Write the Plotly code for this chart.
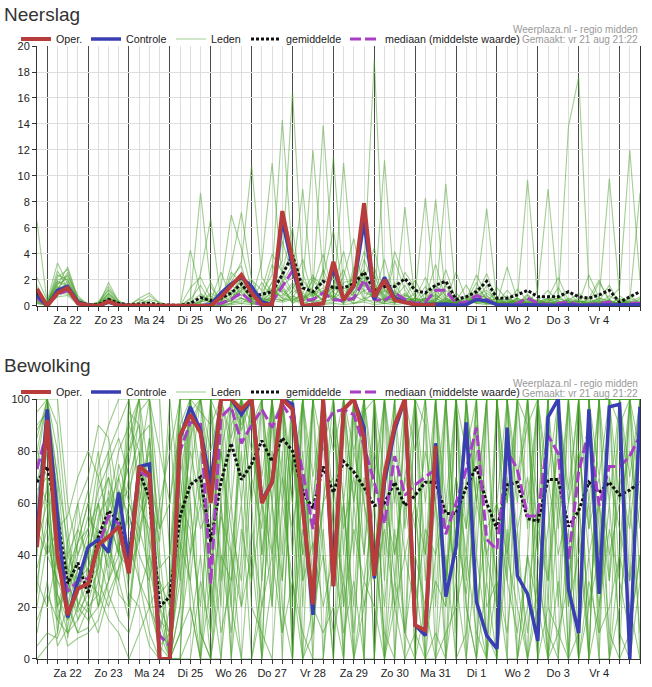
import pandas as pd
import plotly.graph_objects as go

# tijdas: 6-uurlijkse stappen, vr 21 aug 18:00 t/m za 5 sep 12:00
tijden = pd.date_range("2020-08-21 18:00", periods=60, freq="6h")
dag_labels = ["Za 22", "Zo 23", "Ma 24", "Di 25", "Wo 26", "Do 27", "Vr 28",
              "Za 29", "Zo 30", "Ma 31", "Di 1", "Wo 2", "Do 3", "Vr 4"]

# ---- Neerslag (mm per 6 uur) ----
neerslag_oper = [1.3, 0.0, 1.0, 1.4, 0.2, 0.05, 0.0, 0.35, 0.05, 0.05,
                 0, 0, 0, 0, 0, 0, 0, 0,
                 0.7, 1.5, 2.4, 1.0, 0.1, 0.1, 7.3, 3.5, 0.0, 0.1, 0.2, 3.4,
                 0.45, 1.6, 7.9, 0.7, 2.0, 0.45, 0.3, 0.1, 0.05, 0.1]
neerslag_controle = [0.8, 0.0, 1.2, 1.5, 0.3, 0.05, 0.0, 0.3, 0.05, 0.0,
                     0, 0, 0, 0, 0, 0, 0, 0.1,
                     1.0, 1.7, 2.2, 1.5, 0.3, 0.1, 6.6, 3.0, 0.0, 0.1, 0.2, 3.0,
                     0.5, 1.5, 6.5, 0.5, 2.2, 0.6, 0.3, 0.1, 0.1, 0.1,
                     0.15, 0.05, 0.1, 0.5, 0.4, 0.1, 0.05, 0.05, 0.1, 0.05,
                     0.05, 0.05, 0.1, 0.05, 0.05, 0.05, 0.05, 0.05, 0.05, 0.1]
neerslag_gemiddelde = [1.0, 0.1, 1.0, 1.3, 0.3, 0.1, 0.1, 0.5, 0.2, 0.1,
                       0.15, 0.2, 0.1, 0.05, 0.05, 0.2, 0.65, 0.4, 0.6, 1.0,
                       1.7, 0.7, 0.9, 1.1, 2.4, 3.9, 1.4, 1.1, 1.9, 1.4,
                       1.4, 1.7, 2.6, 1.2, 1.5, 1.5, 2.1, 1.2, 1.0, 1.6,
                       1.9, 0.5, 0.7, 1.1, 1.9, 0.6, 0.6, 0.85, 1.2, 0.7,
                       0.7, 0.7, 1.1, 0.7, 0.6, 0.85, 1.2, 0.3, 0.7, 1.1]
neerslag_mediaan = [0.6, 0.05, 0.9, 1.2, 0.2, 0.05, 0.05, 0.3, 0.05, 0.0,
                    0, 0, 0, 0, 0, 0, 0.05, 0.1, 0.2, 0.5,
                    1.0, 0.3, 0.1, 0.3, 1.5, 2.7, 0.4, 0.5, 1.0, 0.5,
                    0.4, 0.6, 2.0, 0.5, 0.4, 1.0, 0.5, 0.2, 0.3, 1.2,
                    1.2, 0.2, 0.3, 0.8, 0.5, 0.1, 0.1, 0.2, 0.6, 0.2,
                    0.1, 0.2, 0.3, 0.1, 0.1, 0.2, 0.3, 0.05, 0.2, 0.2]
neerslag_leden = [
    [6.5, 0.2,2.4,2.0,0.4, 0.1,0.0,1.0,0.2, 0.0,0.0,0.4,0.1, 0.0,0.0,0.6,8.7, 1.5,0.3,2.2,3.1, 0.4,0.2,1.8,3.5, 16.5,2.5,0.4,1.0, 2.2,0.3,1.0,2.8, 0.6,1.4,0.2,0.9, 0.3,0.1,1.6,0.5, 0.2,0.3,1.4,0.6, 0.1,0.4,0.2,0.9, 0.1,0.3,0.6,1.1, 0.2,0.0,0.4,1.6, 0.1,0.3,0.7],
    [1.2, 0.1,1.8,1.5,0.2, 0.0,0.1,0.6,0.1, 0.0,0.3,0.8,0.2, 0.0,0.0,4.3,1.0, 0.2,0.0,0.5,1.2, 2.0,0.4,0.6,1.8, 3.2,0.5,1.5,4.0, 0.8,0.2,2.6,1.5, 3.0,0.4,1.8,0.3, 0.6,2.2,0.4,0.2, 1.0,0.2,0.8,2.5, 0.3,0.1,0.5,9.7, 0.5,0.1,0.2,0.4, 0.0,0.6,2.0,0.3, 0.1,0.0,0.4],
    [0.6, 0.0,1.2,2.6,0.5, 0.1,0.2,1.3,0.4, 0.0,0.0,0.2,0.0, 0.0,0.0,0.0,2.5, 6.7,0.4,1.0,2.0, 0.3,0.5,3.2,1.4, 0.2,1.0,2.4,0.6, 1.5,4.2,0.8,2.0, 0.4,0.2,3.5,1.2, 0.1,0.6,0.3,2.8, 0.4,1.6,0.2,0.1, 0.2,3.0,0.5,0.2, 1.2,9.0,0.6,0.3, 0.1,0.2,1.8,0.5, 0.0,0.8,0.2],
    [2.2, 0.4,3.3,1.7,0.3, 0.0,0.1,0.5,0.0, 0.0,0.1,0.0,0.0, 0.0,0.0,0.3,0.9, 0.2,1.5,7.0,4.4, 1.2,0.3,0.8,5.0, 2.4,0.8,0.2,2.2, 5.8,1.0,0.4,3.6, 1.6,0.8,0.3,0.6, 2.0,0.4,0.9,0.3, 0.2,0.5,2.4,0.8, 0.1,0.2,1.3,0.4, 0.2,0.1,0.5,13.8, 17.6,1.5,0.3,0.2, 0.6,0.1,0.3],
    [0.9, 0.2,1.6,3.0,0.6, 0.2,0.0,1.8,0.3, 0.1,0.0,0.0,0.0, 0.0,0.0,1.4,2.2, 0.6,0.2,3.2,7.2, 2.0,1.2,4.0,2.6, 6.0,0.4,0.9,1.4, 0.4,2.3,5.2,1.0, 0.8,3.6,0.6,0.4, 0.2,0.1,0.5,1.2, 0.6,0.2,0.3,1.0, 0.4,0.8,0.1,0.2, 0.3,0.6,2.2,0.4, 0.1,0.3,0.6,9.8, 0.8,0.2,0.1],
    [1.6, 0.1,1.3,1.2,0.2, 0.0,0.3,1.2,0.2, 0.0,0.0,0.1,0.0, 0.0,0.0,0.0,0.3, 1.0,0.5,1.8,3.4, 10.8,2.2,1.0,0.4, 1.2,3.6,0.6,2.8, 1.0,0.6,1.4,4.2, 2.4,0.3,1.0,0.6, 0.4,1.5,0.2,0.3, 0.1,0.4,1.8,0.4, 0.2,0.1,0.6,0.3, 0.5,0.2,0.1,0.6, 0.3,0.4,0.2,0.5, 1.4,12.0,2.0],
    [0.4, 0.0,0.9,1.9,0.4, 0.1,0.1,0.8,0.1, 0.0,0.2,0.5,0.3, 0.0,0.0,0.0,0.4, 0.8,0.1,2.6,1.8, 0.5,3.4,11.0,2.0, 4.6,0.3,2.2,1.6, 0.6,1.8,2.0,0.5, 1.8,0.5,4.2,2.0, 0.6,0.3,0.2,0.4, 2.6,0.5,0.3,1.6, 0.1,0.3,0.2,0.5, 0.4,1.2,0.3,0.1, 0.2,2.4,0.6,0.3, 0.2,0.4,8.7],
    [1.0, 0.3,2.0,2.3,0.8, 0.0,0.2,0.4,0.0, 0.0,0.0,0.0,0.0, 0.0,0.0,0.2,0.0, 0.4,2.6,0.6,1.2, 0.3,1.0,2.4,14.3, 3.8,0.5,1.2,0.3, 2.6,0.4,1.6,2.2, 0.5,1.2,0.4,2.6, 1.4,0.2,0.6,0.2, 0.3,0.6,0.4,0.2, 1.4,0.5,0.2,0.6, 0.1,0.5,0.8,0.2, 0.6,0.1,0.3,0.4, 0.1,0.6,0.2],
    [0.3, 0.1,1.4,1.6,0.2, 0.0,0.0,0.6,0.2, 0.1,0.5,0.2,0.0, 0.0,0.0,0.0,0.0, 0.0,0.0,0.8,2.4, 0.6,0.2,0.5,1.6, 2.2,9.0,1.0,0.5, 1.2,2.8,0.4,1.8, 4.5,0.6,0.2,0.8, 0.4,0.6,3.2,0.5, 0.2,0.3,0.8,1.2, 0.5,0.2,0.6,0.1, 0.2,0.3,0.2,0.4, 1.0,0.2,0.1,0.2, 0.3,0.2,0.5],
    [0.8, 0.2,2.7,1.4,0.1, 0.0,0.0,0.3,0.1, 0.0,0.0,0.0,0.0, 0.0,0.0,0.5,1.6, 0.2,0.6,1.2,0.8, 1.4,0.4,0.2,2.6, 1.0,1.6,12.0,2.4, 0.5,1.2,0.8,0.4, 1.0,2.2,0.8,0.3, 0.2,0.5,1.6,0.8, 0.4,0.2,0.6,0.3, 0.2,1.2,0.4,0.5, 0.3,0.2,1.4,0.2, 0.4,0.2,0.5,0.1, 0.2,0.2,0.3],
    [1.4, 0.0,1.0,0.9,0.3, 0.2,0.1,0.5,0.0, 0.0,0.0,0.0,0.0, 0.0,0.0,0.0,0.2, 1.8,0.2,0.4,2.2, 0.8,0.3,1.2,0.6, 1.6,0.2,1.4,13.9, 3.0,0.6,2.4,1.6, 0.8,0.4,1.2,0.2, 0.6,0.1,0.3,1.6, 0.2,0.8,0.5,0.2, 0.6,0.2,0.1,0.8, 0.3,0.6,0.2,0.4, 0.1,0.2,0.6,0.4, 0.2,0.1,0.6],
    [0.5, 0.2,1.7,2.1,0.5, 0.0,0.2,0.7,0.1, 0.0,0.0,0.0,0.0, 0.0,0.0,0.0,0.6, 0.3,0.4,1.6,1.0, 0.2,0.6,0.4,2.0, 0.8,0.4,0.6,2.6, 11.5,1.4,1.0,2.4, 0.6,2.0,0.5,0.4, 0.3,1.0,0.2,0.6, 0.4,0.2,1.0,0.6, 0.1,0.5,0.3,0.2, 0.4,0.1,0.3,0.2, 0.1,0.6,0.2,0.8, 0.3,0.4,0.1],
    [0.2, 0.1,1.1,1.3,0.2, 0.0,0.1,0.4,0.0, 0.0,0.0,0.0,0.0, 0.0,0.0,0.1,0.3, 0.6,0.2,1.0,0.6, 0.4,1.8,0.6,1.2, 0.6,2.0,0.8,1.2, 0.4,11.0,2.0,1.2, 1.4,0.4,0.6,1.6, 0.2,0.4,0.8,0.3, 0.6,0.1,0.5,0.8, 0.2,0.4,0.2,0.3, 0.1,0.2,0.4,0.1, 0.3,0.1,0.2,0.2, 0.5,0.1,0.2],
    [0.7, 0.1,2.2,2.8,0.6, 0.1,0.3,1.5,0.3, 0.0,0.6,1.0,0.2, 0.0,0.0,0.0,0.2, 0.0,0.2,0.6,1.4, 0.6,0.5,1.8,1.0, 0.5,0.8,0.3,1.2, 0.6,0.4,1.6,2.8, 19.0,1.2,0.8,0.3, 0.6,0.4,0.2,0.5, 0.2,0.3,0.6,0.4, 0.3,0.2,0.4,0.2, 0.2,0.5,0.1,0.2, 0.4,0.2,0.3,0.1, 0.2,0.3,0.1],
    [1.1, 0.3,1.5,1.0,0.2, 0.0,0.2,0.9,0.2, 0.0,0.0,0.0,0.0, 0.0,0.0,0.0,0.0, 0.1,0.8,0.4,0.6, 0.2,0.4,1.0,0.8, 1.8,0.6,2.0,0.8, 1.6,0.5,0.4,1.8, 0.4,11.2,1.0,0.6, 0.4,0.2,1.2,0.4, 0.2,0.4,0.3,0.6, 0.2,0.1,0.2,0.4, 0.2,0.4,0.6,0.2, 0.1,0.2,0.4,0.2, 0.3,0.1,0.2],
    [0.2, 0.0,0.8,1.1,0.1, 0.0,0.0,0.3,0.0, 0.0,0.0,0.0,0.0, 0.0,0.0,0.0,0.0, 0.0,0.0,0.2,0.6, 0.2,0.1,0.6,0.4, 0.8,0.2,0.5,0.3, 0.6,0.2,3.0,0.6, 0.8,0.4,0.2,7.6, 0.3,0.6,0.2,0.1, 0.4,0.2,0.8,0.3, 0.1,0.3,0.1,0.2, 0.1,0.2,0.2,0.5, 0.2,0.1,0.1,0.3, 0.1,0.2,0.1],
    [0.9, 0.2,1.9,1.6,0.3, 0.0,0.1,0.6,0.1, 0.0,0.0,0.0,0.0, 0.0,0.0,0.0,0.4, 0.2,0.5,0.3,1.6, 0.4,0.8,1.4,0.6, 0.4,1.0,0.2,0.6, 0.8,0.2,0.6,1.2, 0.6,0.3,0.8,0.4, 1.0,8.3,0.6,0.2, 0.3,0.2,0.6,0.2, 0.2,0.6,0.3,0.2, 0.1,0.3,0.1,0.3, 0.4,0.1,0.2,0.2, 0.1,0.2,0.2],
    [0.4, 0.0,1.3,2.4,0.4, 0.1,0.2,1.0,0.2, 0.0,0.0,0.0,0.0, 0.0,0.0,0.0,0.0, 0.0,0.3,0.4,0.2, 0.6,0.2,0.8,1.6, 0.2,0.6,1.0,0.4, 0.4,0.8,0.2,0.6, 0.2,0.6,0.4,1.0, 0.2,0.5,8.2,0.6, 0.2,0.4,0.2,0.3, 0.6,0.2,0.2,0.1, 0.2,0.1,0.4,0.2, 0.1,0.2,0.1,0.2, 0.2,0.1,0.1],
    [0.6, 0.1,1.0,1.4,0.2, 0.0,0.0,0.4,0.1, 0.0,0.0,0.0,0.0, 0.0,0.0,0.0,0.0, 0.0,0.1,0.2,0.4, 0.2,0.3,0.6,0.4, 0.6,0.2,0.4,0.2, 0.3,0.6,0.2,0.4, 0.4,0.2,0.3,0.6, 0.3,0.2,0.4,9.4, 0.6,0.2,0.3,0.2, 0.1,0.2,0.4,0.2, 0.2,0.1,0.2,0.1, 0.2,0.1,0.2,0.1, 0.1,0.2,0.1],
    [0.3, 0.0,0.7,0.8,0.1, 0.0,0.0,0.2,0.0, 0.0,0.0,0.0,0.0, 0.0,0.0,0.0,0.0, 0.0,0.0,0.1,0.2, 0.1,0.2,0.4,0.3, 0.5,0.1,0.2,0.1, 0.2,0.1,0.2,0.3, 0.1,0.2,0.1,0.2, 0.2,0.1,0.2,0.3, 0.5,0.2,1.2,7.5, 0.4,0.1,0.2,0.1, 0.1,0.2,0.1,0.1, 0.1,0.1,0.2,0.1, 0.1,0.1,0.2],
]

# ---- Bewolking (%) ----
bewolking_oper = [43, 92, 40, 17, 27, 29, 44, 47, 51, 33, 74, 71, 0, 0, 86, 94, 87, 60, 100, 100,
                  96, 100, 60, 68, 100, 96, 58, 21, 100, 28, 96, 100, 85, 32, 71, 90, 100, 13, 11, 82]
bewolking_controle = [48, 96, 55, 16, 30, 43, 46, 41, 64, 37, 74, 75, 0, 0, 85, 97, 88, 67, 100, 100,
                      94, 100, 61, 68, 100, 98, 60, 17, 100, 28, 96, 100, 89, 31, 68, 88, 100, 13, 9, 83,
                      24, 43, 91, 22, 9, 4, 89, 32, 25, 7, 93, 100, 27, 10, 96, 25, 97, 98, 0, 97]
bewolking_gemiddelde = [68, 74, 55, 29, 37, 25, 47, 57, 53, 39, 72, 62, 20, 24, 55, 67, 70, 45, 68, 83,
                        69, 75, 84, 76, 85, 80, 64, 58, 74, 64, 76, 72, 66, 59, 60, 68, 59, 63, 68, 68,
                        56, 56, 66, 74, 60, 50, 67, 68, 54, 53, 69, 69, 51, 57, 68, 64, 68, 63, 65, 68]
bewolking_mediaan = [73, 88, 45, 26, 30, 31, 43, 55, 52, 35, 72, 70, 9, 5, 80, 91, 91, 29, 93, 97,
                     83, 90, 96, 89, 98, 92, 72, 50, 89, 95, 96, 94, 82, 68, 52, 78, 63, 67, 70, 73,
                     48, 60, 73, 89, 46, 42, 80, 73, 55, 55, 86, 79, 38, 72, 88, 59, 74, 74, 78, 86]
bewolking_leden = [
    [60, 98,45,20,35, 30,55,62,48, 70,85,90,10, 5,60,100,100, 40,100,100,88, 100,70,100,100, 96,30,100,100, 100,60,20,95, 100,100,40,70, 100,90,20,100, 45,100,100,30, 100,60,100,100, 20,100,100,65, 100,100,40,100, 90,100,100],
    [85, 100,70,30,18, 25,40,50,75, 60,95,100,30, 0,20,90,100, 60,100,85,100, 100,100,60,30, 100,100,70,100, 100,100,100,60, 30,100,100,100, 80,100,100,50, 100,20,0,100, 100,100,30,0, 100,100,100,100, 60,0,100,100, 100,70,100],
    [40, 90,25,15,28, 40,60,45,55, 30,65,80,20, 10,90,100,60, 10,80,100,100, 100,40,90,100, 100,100,10,60, 100,100,80,100, 100,30,100,100, 100,40,100,100, 10,100,60,100, 20,100,100,100, 100,60,0,100, 100,100,100,30, 100,100,60],
    [100, 100,60,35,22, 18,30,58,70, 50,72,60,5, 0,40,85,100, 100,100,20,100, 90,100,100,70, 20,100,100,100, 60,0,100,100, 100,100,70,10, 100,100,100,30, 100,100,20,0, 100,60,100,100, 40,0,100,100, 100,100,50,0, 100,30,100],
    [70, 60,15,10,20, 35,70,80,40, 85,100,70,0, 20,70,95,100, 80,100,100,100, 100,100,100,100, 100,70,0,100, 100,100,100,100, 0,100,100,100, 100,100,60,100, 100,100,100,100, 0,100,100,90, 100,100,100,100, 20,100,100,100, 100,100,100],
    [20, 45,30,25,40, 55,48,35,60, 75,100,40,25, 30,100,60,10, 0,60,100,90, 100,40,70,100, 100,100,100,40, 0,100,60,100, 100,100,100,100, 60,0,100,100, 100,50,100,100, 100,100,0,40, 100,100,100,20, 100,50,100,100, 0,100,100],
    [95, 100,80,40,30, 20,25,65,50, 100,60,85,15, 0,0,70,100, 100,30,100,100, 60,100,100,100, 100,0,100,100, 100,40,100,100, 100,0,20,100, 100,100,100,0, 100,100,40,100, 100,30,100,100, 0,100,100,60, 100,100,10,100, 100,60,100],
    [55, 80,35,30,15, 28,52,70,45, 40,75,100,40, 5,30,100,95, 90,100,60,100, 100,100,20,100, 70,100,100,100, 100,100,100,100, 60,100,0,100, 100,100,100,100, 0,100,100,100, 100,100,70,100, 100,0,60,100, 100,100,100,100, 60,100,0],
    [10, 30,5,12,35, 48,20,30,65, 55,40,30,0, 0,10,40,80, 20,100,100,60, 100,100,100,0, 100,40,100,80, 100,100,0,100, 100,70,100,100, 0,100,100,100, 100,80,100,0, 60,100,100,100, 100,100,20,100, 100,0,100,100, 100,100,30],
    [75, 100,50,22,10, 12,38,60,80, 90,100,100,60, 20,100,100,100, 100,100,100,70, 100,60,100,100, 100,100,100,0, 60,100,100,100, 100,100,100,50, 100,100,0,100, 100,100,100,100, 100,40,100,100, 100,100,100,0, 100,100,70,100, 100,100,100],
    [65, 70,20,28,45, 60,80,40,30, 15,55,70,35, 40,80,100,70, 30,0,90,100, 100,100,40,100, 60,100,100,100, 100,20,100,40, 100,100,100,100, 100,60,100,100, 40,100,0,100, 100,100,100,100, 60,100,100,100, 0,100,100,60, 100,100,100],
    [30, 20,40,18,25, 45,65,75,85, 70,30,20,20, 0,50,80,60, 100,90,0,100, 100,100,100,100, 40,100,60,100, 100,100,100,0, 100,40,100,100, 100,100,100,100, 100,0,100,100, 100,100,100,50, 100,30,100,100, 100,100,100,0, 40,100,100],
    [90, 95,65,8,30, 35,45,55,40, 95,90,60,0, 0,0,100,100, 70,100,100,100, 80,100,100,100, 100,100,100,100, 100,0,100,100, 100,100,60,100, 100,100,100,100, 100,100,100,100, 100,100,100,100, 100,100,100,100, 100,100,100,100, 100,100,100],
    [45, 60,10,40,50, 65,30,20,35, 60,45,85,50, 60,90,20,0, 0,40,30,100, 60,0,100,40, 100,100,40,100, 30,100,100,100, 70,100,100,0, 100,30,100,100, 100,100,60,100, 100,0,100,100, 100,100,50,100, 100,60,100,100, 100,100,100],
    [80, 100,90,50,20, 15,20,40,70, 80,100,100,100, 40,100,100,100, 100,100,100,100, 100,100,100,100, 100,60,100,100, 100,100,100,100, 100,100,100,100, 100,100,100,100, 100,100,100,100, 100,100,100,100, 100,100,100,100, 100,100,100,100, 100,100,100],
    [35, 50,20,5,8, 10,15,30,45, 20,60,50,0, 0,0,10,40, 0,30,60,20, 40,0,30,100, 60,0,10,50, 0,60,0,30, 20,0,50,10, 0,20,60,0, 30,0,40,10, 0,50,0,20, 60,0,30,0, 10,40,0,0, 20,60,10],
    [50, 40,30,20,10, 20,10,25,35, 45,30,10,0, 0,20,60,10, 0,0,40,80, 20,10,0,60, 30,10,0,0, 40,10,30,0, 0,60,20,0, 10,0,0,40, 0,10,70,20, 30,0,0,40, 0,20,10,0, 50,0,20,60, 10,0,30],
    [15, 25,15,30,60, 70,90,85,60, 25,20,5,0, 0,0,0,30, 10,60,20,0, 0,30,80,20, 0,70,20,10, 20,0,60,20, 40,10,0,60, 30,0,10,0, 60,20,0,30, 0,40,20,0, 30,10,0,50, 0,20,60,10, 0,10,40],
    [100, 100,100,60,40, 50,75,90,100, 100,100,100,80, 60,100,100,100, 100,60,0,40, 100,0,100,100, 100,20,100,100, 100,100,40,100, 100,0,100,100, 100,100,100,20, 100,100,100,0, 100,100,60,100, 100,20,100,100, 100,100,100,100, 30,100,100],
    [5, 10,8,20,45, 60,40,25,15, 10,25,40,10, 0,40,100,100, 100,20,100,100, 100,100,60,100, 0,100,100,100, 100,60,100,0, 100,100,100,100, 100,0,40,100, 100,100,100,100, 100,100,30,100, 0,100,100,100, 100,0,100,100, 100,100,80],
    [68, 85,55,15,25, 40,60,70,55, 80,90,30,60, 80,100,100,0, 100,100,80,100, 100,30,100,100, 0,100,100,100, 100,100,100,100, 0,100,100,100, 100,100,100,60, 100,30,100,100, 100,100,100,100, 100,70,100,0, 100,100,100,100, 100,0,100],
    [25, 70,40,35,30, 30,50,45,25, 20,50,65,45, 100,60,30,0, 30,100,100,100, 30,100,100,60, 100,100,100,100, 80,100,100,100, 100,100,100,100, 0,100,100,100, 100,100,100,100, 100,100,100,60, 100,100,100,100, 100,100,0,100, 100,100,100],
    [88, 96,70,45,20, 30,35,50,60, 65,80,20,5, 10,50,100,100, 100,100,100,100, 100,100,100,100, 100,100,100,100, 100,100,60,100, 100,100,100,100, 100,100,100,100, 100,100,100,100, 100,100,100,100, 100,100,100,100, 100,100,100,100, 100,100,100],
    [52, 65,25,10,15, 22,35,80,90, 100,65,45,30, 20,70,40,60, 50,80,40,20, 70,50,100,30, 80,40,60,100, 50,30,80,60, 40,70,30,90, 60,40,80,30, 70,40,90,60, 30,80,50,70, 40,90,60,30, 80,50,70,40, 60,80,50],
    [30, 55,35,25,50, 40,20,45,30, 60,50,35,15, 10,45,30,70, 20,55,40,0, 50,20,60,10, 80,30,45,20, 40,60,10,70, 30,50,20,40, 60,10,30,20, 50,25,60,40, 20,70,40,10, 50,30,70,20, 40,60,20,50, 30,10,40],
    [80, 70,20,35,45, 50,60,30,40, 90,80,20,10, 30,60,50,20, 70,40,10,50, 30,60,20,80, 10,50,30,60, 70,20,50,30, 60,20,70,40, 20,50,40,60, 30,70,20,50, 60,30,10,40, 20,50,80,30, 60,20,40,70, 50,30,60],
    [0, 5,10,45,60, 30,25,15,10, 0,10,20,30, 0,10,20,0, 50,10,30,60, 0,20,40,10, 30,0,20,40, 10,30,0,20, 50,0,30,10, 40,20,0,10, 20,40,10,0, 30,10,50,0, 20,0,10,30, 0,30,10,20, 40,20,0],
    [60, 40,50,55,70, 80,70,55,40, 35,45,70,50, 90,30,70,50, 60,80,50,30, 80,60,40,70, 50,80,30,60, 90,50,70,40, 80,60,40,70, 50,80,60,30, 70,50,80,40, 60,40,70,90, 50,70,40,60, 80,40,60,30, 70,50,90],
]

for rij in neerslag_leden + bewolking_leden:
    assert len(rij) == len(tijden), len(rij)

FONT = "Liberation Sans, Arial, sans-serif"
middagen = [t for t in tijden if t.hour == 12]
middernachten = [t for t in tijden if t.hour == 0]

B, H = 652, 687

fig = go.Figure()


def voeg_panel_toe(leden, oper, controle, gemiddelde, mediaan, xas, yas, labelas, legenda, ledenkleur):
    for k, rij in enumerate(leden):
        fig.add_trace(go.Scatter(
            x=tijden, y=rij, mode="lines", name="Leden",
            line=dict(color=ledenkleur, width=1.1),
            legendgroup=legenda + "leden", showlegend=(k == 0),
            legendrank=3, legendwidth=30,
            xaxis=xas, yaxis=yas, legend=legenda, hoverinfo="skip"))
    fig.add_trace(go.Scatter(
        x=tijden, y=gemiddelde, mode="lines", name="gemiddelde",
        line=dict(color="#111111", width=3, dash="3px,2px"),
        legendrank=4, legendwidth=54, xaxis=xas, yaxis=yas, legend=legenda))
    fig.add_trace(go.Scatter(
        x=tijden, y=mediaan, mode="lines", name="mediaan (middelste waarde)",
        line=dict(color="#a93ec6", width=3, dash="11px,4px"),
        legendrank=5, legendwidth=136, xaxis=xas, yaxis=yas, legend=legenda))
    fig.add_trace(go.Scatter(
        x=tijden[:len(controle)], y=controle, mode="lines", name="Controle",
        line=dict(color="#3a3eb3", width=3.5),
        legendrank=2, legendwidth=40, xaxis=xas, yaxis=yas, legend=legenda))
    fig.add_trace(go.Scatter(
        x=tijden[:len(oper)], y=oper, mode="lines", name="Oper.",
        line=dict(color="#b83c3c", width=4),
        legendrank=1, legendwidth=25, xaxis=xas, yaxis=yas, legend=legenda))
    # lege trace zodat de label-as getekend wordt
    fig.add_trace(go.Scatter(
        x=middagen, y=[None] * len(middagen), mode="lines", showlegend=False,
        xaxis=labelas, yaxis=yas, hoverinfo="skip"))


voeg_panel_toe(neerslag_leden, neerslag_oper, neerslag_controle, neerslag_gemiddelde,
               neerslag_mediaan, "x", "y", "x3", "legend", "rgba(70,160,40,0.5)")
voeg_panel_toe(bewolking_leden, bewolking_oper, bewolking_controle, bewolking_gemiddelde,
               bewolking_mediaan, "x2", "y2", "x4", "legend2", "rgba(70,160,40,0.55)")

# hoofd-as: donkere lijnen op middernacht, lichte lijnen elke 6 uur
xas_stijl = dict(
    range=[tijden[0], tijden[-1]], tickmode="array", tickvals=middernachten,
    showticklabels=False, ticks="outside", ticklen=4, tickcolor="#333",
    showgrid=True, gridcolor="#4a4a4a", gridwidth=1, zeroline=False,
    showline=True, linecolor="#333", linewidth=1,
    minor=dict(tickmode="array", tickvals=list(tijden), ticks="outside", ticklen=4,
               tickcolor="#333", showgrid=True, gridcolor="#dedede", gridwidth=1),
)
# extra as alleen voor de daglabels (op 12 uur)
labelas_stijl = dict(
    range=[tijden[0], tijden[-1]], tickmode="array", tickvals=middagen, ticktext=dag_labels,
    ticks="", showgrid=False, zeroline=False, showline=False, side="bottom",
    tickfont=dict(family=FONT, size=11, color="#222"), ticklabelstandoff=6,
)
yas_stijl = dict(
    showline=True, linecolor="#333", linewidth=1, mirror=True, ticks="outside", ticklen=4,
    tickcolor="#333", gridcolor="#dedede", zeroline=False,
    tickfont=dict(family=FONT, size=11, color="#222"),
)

legenda_stijl = dict(
    orientation="h", xref="container", x=16 / B, xanchor="left", yref="container",
    yanchor="middle", font=dict(family=FONT, size=10.7, color="#222"),
    bgcolor="rgba(0,0,0,0)", itemwidth=30, traceorder="normal",
)

fig.update_layout(
    width=B, height=H,
    margin=dict(l=37, r=12, t=46, b=28, autoexpand=False),
    paper_bgcolor="white", plot_bgcolor="white",
    font=dict(family=FONT, size=11, color="#222"),
    showlegend=True,
    xaxis=dict(domain=[0, 1], anchor="y", **xas_stijl),
    yaxis=dict(domain=[0.5759, 1], anchor="x", range=[0, 20], dtick=2, **yas_stijl),
    xaxis2=dict(domain=[0, 1], anchor="y2", **xas_stijl),
    yaxis2=dict(domain=[0, 0.4241], anchor="x2", range=[0, 100], dtick=20, **yas_stijl),
    xaxis3=dict(overlaying="x", anchor="y", **labelas_stijl),
    xaxis4=dict(overlaying="x2", anchor="y2", **labelas_stijl),
    legend=dict(y=1 - 39 / H, **legenda_stijl),
    legend2=dict(y=1 - 392 / H, **legenda_stijl),
    hovermode=False,
)

for titel, ytitel, ybron in (("Neerslag", 1.0522, 1.0277), ("Bewolking", 0.4796, 0.4502)):
    fig.add_annotation(text=titel, xref="paper", yref="paper", x=-0.058, y=ytitel,
                       xanchor="left", yanchor="middle", showarrow=False,
                       font=dict(family=FONT, size=19, color="#333"))
    fig.add_annotation(text="Weerplaza.nl - regio midden", xref="paper", yref="paper",
                       x=1, y=ybron, xanchor="right", yanchor="middle", showarrow=False,
                       font=dict(family=FONT, size=10, color="#999"))
    fig.add_annotation(text="Gemaakt: vr 21 aug 21:22", xref="paper", yref="paper",
                       x=1, y=ybron - 0.0163, xanchor="right", yanchor="middle", showarrow=False,
                       font=dict(family=FONT, size=10, color="#999"))

# geen standaard body-marge, zodat de figuur linksboven in het venster staat
fig.write_html("out.html", config={"displayModeBar": False},
               post_script="document.body.style.margin='0';")
